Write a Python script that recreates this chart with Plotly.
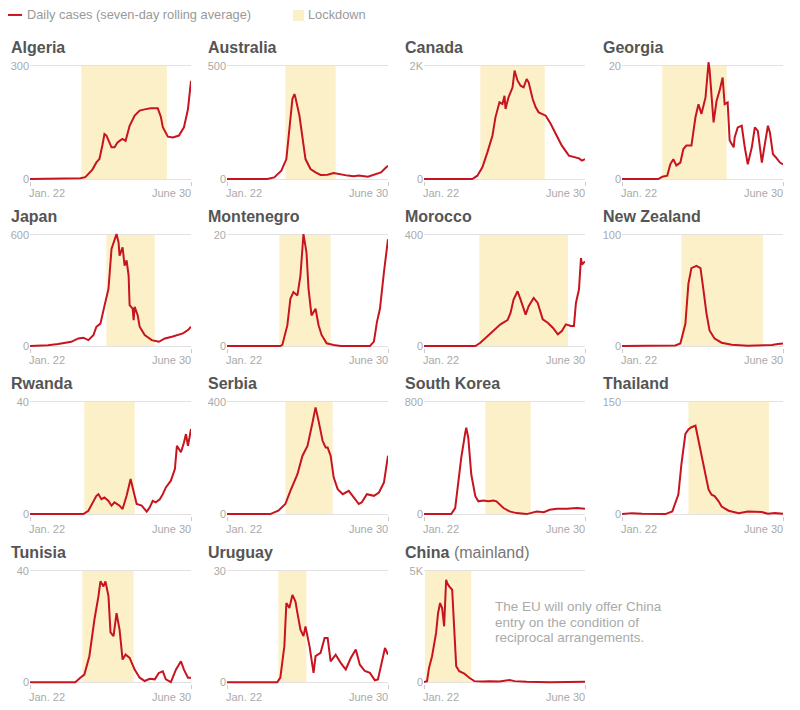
import pandas as pd
import plotly.graph_objects as go

START = pd.Timestamp("2020-01-22")
END = pd.Timestamp("2020-06-30")

countries = ["Algeria", "Australia", "Canada", "Georgia",
             "Japan", "Montenegro", "Morocco", "New Zealand",
             "Rwanda", "Serbia", "South Korea", "Thailand",
             "Tunisia", "Uruguay", "China"]
title_suffix = ["", "", "", "", "", "", "", "", "", "", "", "", "", "", " (mainland)"]

y_max = [300, 500, 2000, 20, 600, 20, 400, 100, 40, 400, 800, 150, 40, 30, 5000]
y_max_label = ["300", "500", "2K", "20", "600", "20", "400", "100",
               "40", "400", "800", "150", "40", "30", "5K"]

lockdown_start = ["2020-03-13", "2020-03-20", "2020-03-18", "2020-03-02",
                  "2020-04-07", "2020-03-14", "2020-03-17", "2020-03-21",
                  "2020-03-16", "2020-03-20", "2020-03-23", "2020-03-28",
                  "2020-03-14", "2020-03-13", "2020-01-23"]
lockdown_end = ["2020-06-06", "2020-05-09", "2020-05-21", "2020-05-05",
                "2020-05-25", "2020-05-04", "2020-06-13", "2020-06-10",
                "2020-05-05", "2020-05-06", "2020-05-07", "2020-06-16",
                "2020-05-04", "2020-04-10", "2020-03-09"]

# (days since Jan. 22, seven-day average of daily cases)
algeria = [(0, 0), (43, 0), (50, 2), (55, 5), (58, 13), (62, 25), (66, 44), (69, 53), (72, 90),
           (74, 119), (76, 115), (79, 95), (81, 84), (84, 84), (87, 97), (90, 103), (92, 106),
           (95, 101), (99, 141), (104, 168), (109, 181), (115, 185), (120, 187), (127, 187),
           (130, 165), (132, 137), (135, 120), (137, 112), (142, 110), (148, 115), (153, 137),
           (157, 185), (160, 260)]
australia = [(0, 0), (40, 0), (47, 7), (54, 37), (59, 88), (62, 235), (65, 353), (67, 375),
             (68, 360), (72, 279), (75, 176), (78, 88), (83, 44), (88, 29), (93, 18), (100, 19),
             (106, 26), (113, 19), (120, 15), (126, 12), (131, 15), (140, 10), (146, 18),
             (153, 29), (158, 51), (160, 59)]
canada = [(0, 0), (48, 0), (53, 59), (58, 206), (63, 470), (68, 765), (71, 1088), (75, 1353),
          (78, 1324), (80, 1470), (81, 1235), (84, 1441), (88, 1618), (90, 1912), (93, 1735),
          (96, 1647), (99, 1618), (102, 1765), (104, 1706), (108, 1412), (111, 1265),
          (114, 1176), (121, 1118), (126, 971), (131, 794), (137, 588), (144, 412),
          (149, 382), (154, 365), (157, 324), (160, 353)]
georgia = [(0, 0), (36, 0), (40, 0.4), (45, 0.6), (48, 2.6), (51, 3.5), (54, 2.4), (58, 2.9),
           (61, 5.3), (64, 5.9), (69, 5.9), (73, 10.9), (76, 13.2), (79, 11.5), (83, 14.4),
           (86, 20.6), (87, 19.4), (91, 10), (94, 13.8), (97, 15.6), (100, 17.9), (102, 13.2),
           (105, 13.5), (107, 6.8), (111, 5.6), (112, 7.4), (115, 9.1), (119, 9.4), (122, 5.6),
           (125, 2.6), (129, 5.6), (132, 9.1), (135, 8.5), (139, 2.9), (142, 6.2), (145, 9.4),
           (147, 8.2), (150, 4.4), (153, 3.8), (157, 2.9), (160, 2.6)]
japan = [(0, 0), (18, 4), (28, 11), (35, 18), (41, 23), (48, 41), (53, 45), (58, 32), (63, 59),
         (66, 104), (70, 121), (73, 193), (75, 237), (78, 309), (81, 523), (84, 577), (86, 604),
         (88, 559), (89, 487), (92, 532), (94, 434), (96, 461), (98, 380), (99, 220), (102, 202),
         (103, 139), (104, 211), (107, 166), (109, 104), (114, 59), (121, 32), (128, 23),
         (134, 41), (141, 50), (147, 59), (152, 68), (157, 86), (160, 104)]
montenegro = [(0, 0), (53, 0), (55, 0.2), (60, 3.75), (63, 8.5), (66, 9.7), (70, 9.1), (73, 12.7),
              (76, 20.1), (79, 16.8), (81, 10.3), (84, 5.5), (88, 6.7), (91, 3.75), (94, 2),
              (99, 0.5), (106, 0.2), (113, 0), (142, 0), (146, 0.8), (149, 4.3), (152, 6.7),
              (156, 13.3), (160, 19.2)]
morocco = [(0, 0), (51, 0), (56, 12), (63, 36), (70, 60), (76, 78), (83, 93), (86, 119), (89, 167),
           (93, 197), (96, 167), (101, 113), (104, 143), (109, 173), (113, 155), (118, 96),
           (123, 84), (128, 66), (133, 42), (137, 54), (141, 78), (146, 72), (149, 72),
           (151, 155), (154, 203), (156, 316), (157, 293), (160, 304)]
new_zealand = [(0, 0), (40, 0.6), (53, 0.6), (58, 2.4), (63, 20), (66, 56), (69, 70), (74, 72),
               (78, 70), (81, 50), (84, 29), (87, 14), (92, 6.8), (99, 3), (109, 1.2), (125, 0.3),
               (142, 0.3), (149, 0.9), (155, 1.8), (160, 2.4)]
rwanda = [(0, 0), (53, 0), (58, 1.2), (63, 4.7), (66, 6.5), (68, 7.1), (71, 5.3), (74, 5.9),
          (78, 4.7), (81, 3), (84, 4.2), (89, 3), (92, 1.8), (96, 6.5), (100, 12.5), (102, 9.5),
          (106, 3.6), (111, 3), (116, 0.9), (119, 2.4), (122, 4.7), (125, 4.2), (129, 5.3),
          (132, 7.1), (135, 9.5), (140, 11.9), (144, 16), (146, 24.3), (150, 22), (153, 25.5),
          (155, 28.5), (157, 24.3), (160, 30.3)]
serbia = [(0, 0), (43, 0), (51, 12), (58, 36), (63, 83), (70, 142), (75, 208), (80, 243),
          (85, 326), (88, 380), (91, 332), (95, 261), (98, 237), (100, 237), (103, 208),
          (106, 131), (110, 89), (115, 71), (121, 83), (126, 59), (131, 36), (134, 42),
          (139, 71), (146, 65), (151, 77), (156, 113), (160, 208)]
south_korea = [(0, 0), (27, 0), (31, 43), (34, 210), (37, 401), (41, 580), (42, 616), (44, 544),
               (47, 282), (51, 127), (54, 91), (59, 96), (64, 91), (69, 96), (72, 91), (79, 43),
               (85, 19), (92, 7), (102, 0), (112, 19), (119, 14), (125, 31), (132, 38),
               (142, 38), (152, 43), (160, 38)]
thailand = [(0, 0), (10, 1.3), (20, 0.4), (43, 0), (50, 3.6), (56, 26), (59, 66), (63, 107),
            (66, 113), (69, 116), (73, 118), (76, 98), (79, 75), (83, 53), (86, 33), (89, 26),
            (92, 24), (96, 17), (99, 10), (106, 4.5), (116, 1.3), (125, 3.6), (132, 2.7),
            (139, 2.7), (145, 0.4), (152, 1.3), (160, 0.4)]
tunisia = [(0, 0), (45, 0), (50, 1.6), (54, 2.7), (59, 9.3), (64, 22.4), (68, 30.8), (70, 36.2),
           (73, 34.4), (75, 36.2), (78, 30.8), (80, 17.9), (83, 16.5), (86, 24.8), (89, 18.9),
           (92, 8.1), (95, 9.9), (99, 8.7), (104, 4.5), (109, 1.6), (114, 0.4), (119, 1.2),
           (124, 1), (128, 3.3), (132, 3.9), (135, 1), (140, 0), (145, 4.5), (150, 7.5),
           (153, 4.5), (157, 1.6), (160, 1.6)]
uruguay = [(0, 0), (50, 0), (53, 1.2), (57, 9.7), (59, 21.3), (62, 20), (65, 23.5), (68, 21.8),
           (70, 18.6), (73, 14.1), (76, 12.4), (78, 15), (82, 9.7), (86, 2.5), (88, 7), (93, 7.9),
           (97, 11.9), (100, 11.9), (103, 5.6), (108, 7.4), (113, 5.2), (118, 3.4), (123, 6.5),
           (128, 8.8), (132, 4.7), (137, 3), (142, 2.5), (147, 0.5), (150, 0.7), (153, 4.7),
           (157, 9.2), (160, 7.4)]
china = [(0, 0), (3, 45), (5, 642), (8, 1164), (12, 2209), (14, 3104), (16, 3552), (18, 3328),
         (20, 2507), (22, 4597), (23, 4448), (25, 4299), (28, 4149), (30, 2060), (32, 716),
         (35, 493), (40, 388), (45, 194), (50, 45), (58, 30), (65, 45), (75, 30), (85, 90),
         (90, 45), (102, 15), (125, 0), (148, 30), (160, 15)]

series = [algeria, australia, canada, georgia, japan, montenegro, morocco, new_zealand,
          rwanda, serbia, south_korea, thailand, tunisia, uruguay, china]

note_lines = ["The EU will only offer China", "entry on the condition of",
              "reciprocal arrangements."]
legend_line_text = "Daily cases (seven-day rolling average)"
legend_box_text = "Lockdown"

# ---- styling / layout constants (screen pixel coordinates) ----
OFF = 8              # page body margin in the browser
W, H = 792, 702      # figure size so that figure + margin fills the 800x710 window
COL_LEFT = [30, 227, 424, 622]
PW = 161
ROW_TOP = [66, 236, 404, 574]
ROW_ZERO = [180, 348, 517, 686]
LO, HI = 0.016, 0.07  # fractional padding below 0 and above the top tick
RED = "#c8141e"
SHADE = "#fcf0c8"
FONT = "Liberation Sans, Arial, sans-serif"


def px(x):
    return (x - OFF) / W


def py(y):
    return 1 - (y - OFF) / H


fig = go.Figure()
shapes = []
annotations = []
layout_axes = {}

for i, name in enumerate(countries):
    r, c = divmod(i, 4)
    n = i + 1
    xa = "x" if n == 1 else f"x{n}"
    ya = "y" if n == 1 else f"y{n}"
    left, top, zero = COL_LEFT[c], ROW_TOP[r], ROW_ZERO[r]
    h = zero - top
    ymax = y_max[i]

    days = [d for d, _ in series[i]]
    vals = [v for _, v in series[i]]
    dates = [START + pd.Timedelta(days=d) for d in days]
    fig.add_trace(go.Scatter(x=dates, y=vals, mode="lines",
                             line=dict(color=RED, width=2),
                             xaxis=xa, yaxis=ya, showlegend=False, hoverinfo="skip"))

    layout_axes["xaxis" if n == 1 else f"xaxis{n}"] = dict(
        domain=[px(left), px(left + PW)], range=[START, END], anchor=ya,
        showgrid=False, zeroline=False, showline=False,
        tickmode="array", tickvals=[START, END], ticks="outside", ticklen=4,
        tickcolor="#cccccc", tickwidth=1, showticklabels=False, fixedrange=True)
    layout_axes["yaxis" if n == 1 else f"yaxis{n}"] = dict(
        domain=[py(zero + LO * h), py(top - HI * h)],
        range=[-LO * ymax, (1 + HI) * ymax], anchor=xa,
        tickmode="array", tickvals=[0, ymax], ticktext=["0", y_max_label[i]],
        showgrid=True, gridcolor="#e2e2e2", gridwidth=1, zeroline=False, showline=False,
        ticks="", tickfont=dict(size=11, color="#aaaaaa", family=FONT), fixedrange=True)

    shapes.append(dict(type="rect", xref=xa, yref=ya,
                       x0=lockdown_start[i], x1=lockdown_end[i], y0=0, y1=ymax,
                       fillcolor=SHADE, line=dict(width=0), layer="below"))

    title = f"<b>{name}</b>"
    if title_suffix[i]:
        title += f"<span style='color:#777777'>{title_suffix[i]}</span>"
    annotations.append(dict(text=title, xref="paper", yref="paper",
                            x=px(left - 21), y=py(top - 18.5), xanchor="left", yanchor="middle",
                            showarrow=False, font=dict(size=16, color="#555555", family=FONT)))
    annotations.append(dict(text="Jan. 22", xref=xa, yref="paper", x=START, y=py(zero + 14.5),
                            xanchor="left", yanchor="middle", xshift=-3, showarrow=False,
                            font=dict(size=11, color="#aaaaaa", family=FONT)))
    annotations.append(dict(text="June 30", xref=xa, yref="paper", x=END, y=py(zero + 14.5),
                            xanchor="right", yanchor="middle", xshift=2, showarrow=False,
                            font=dict(size=11, color="#aaaaaa", family=FONT)))

for k, line in enumerate(note_lines):
    annotations.append(dict(text=line, xref="paper", yref="paper", x=px(493), y=py(610 + 15.8 * k),
                            xanchor="left", yanchor="middle", showarrow=False,
                            font=dict(size=13.5, color="#aaaaaa", family=FONT)))

# legend (drawn manually)
shapes.append(dict(type="line", xref="paper", yref="paper", x0=px(8), x1=px(22),
                   y0=py(15), y1=py(15), line=dict(color=RED, width=2)))
shapes.append(dict(type="rect", xref="paper", yref="paper", x0=px(293), x1=px(304),
                   y0=py(21), y1=py(10), fillcolor=SHADE, line=dict(width=0)))
annotations.append(dict(text=legend_line_text, xref="paper", yref="paper", x=px(25), y=py(15),
                        xanchor="left", yanchor="middle", showarrow=False,
                        font=dict(size=12.8, color="#999999", family=FONT)))
annotations.append(dict(text=legend_box_text, xref="paper", yref="paper", x=px(306), y=py(15),
                        xanchor="left", yanchor="middle", showarrow=False,
                        font=dict(size=12.8, color="#999999", family=FONT)))

fig.update_layout(layout_axes)
fig.update_layout(width=W, height=H, margin=dict(l=0, r=0, t=0, b=0),
                  paper_bgcolor="white", plot_bgcolor="white",
                  font=dict(family=FONT), shapes=shapes, annotations=annotations,
                  showlegend=False)

fig.write_html("out.html", config={"displayModeBar": False})
